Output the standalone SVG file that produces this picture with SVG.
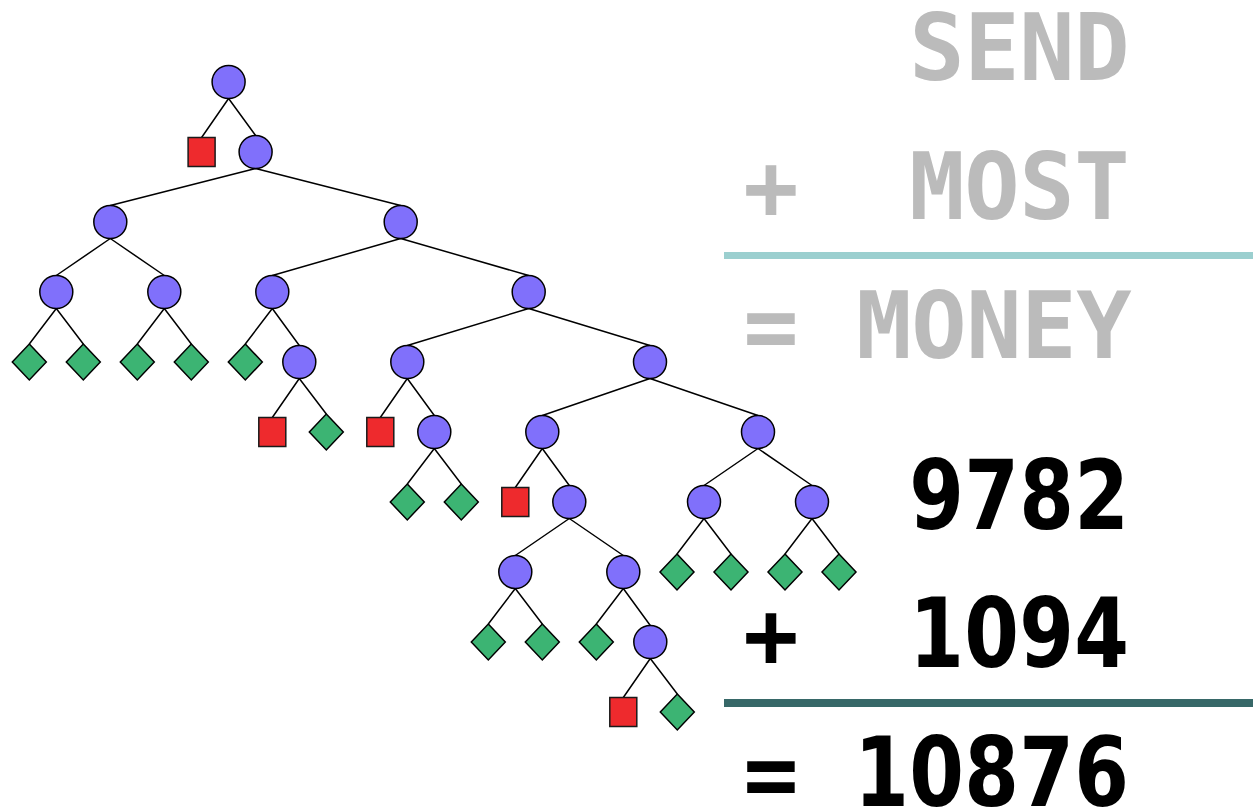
<svg xmlns="http://www.w3.org/2000/svg" width="1253" height="809" viewBox="0 0 1253 809">
  <style>
    .edge { stroke: #000; stroke-width: 1.5; fill: none; }
    .var { fill: #8070fb; stroke: #000; stroke-width: 1.5; }
    .fail { fill: #ee2a2d; stroke: #1a1a1a; stroke-width: 1.5; }
    .sol { fill: #3cb473; stroke: #000; stroke-width: 1.5; }
    .word { font-family: "DejaVu Sans Mono", "Liberation Mono", monospace; font-weight: bold; font-size: 92px; fill: #bbbbbb; text-anchor: middle; }
    .num { font-family: "DejaVu Sans", "Liberation Sans", sans-serif; font-weight: bold; font-size: 96px; fill: #000; text-anchor: middle; }
    .op { font-family: "DejaVu Sans Mono", "Liberation Mono", monospace; font-weight: bold; font-size: 92px; text-anchor: middle; }
  </style>
  <defs>
    <circle id="c" r="16.5" class="var"/>
    <rect id="s" x="-13.5" y="-14.5" width="27" height="29" class="fail"/>
    <path id="d" d="M0,-18 L17,0 L0,18 L-17,0 Z" class="sol"/>
  </defs>

  <!-- search tree edges: parent bottom to child top -->
  <g id="edges" class="edge">
    <path d="M228.6,98.5 L201.6,137.5 M228.6,98.5 L255.6,135.5"/>
    <path d="M255.6,168.5 L110.3,205.5 M255.6,168.5 L400.7,205.5"/>
    <path d="M110.3,238.5 L56.3,275.5 M110.3,238.5 L164.3,275.5"/>
    <path d="M56.3,308.5 L29.3,344 M56.3,308.5 L83.3,344"/>
    <path d="M164.3,308.5 L137.3,344 M164.3,308.5 L191.3,344"/>
    <path d="M400.7,238.5 L272.3,275.5 M400.7,238.5 L528.7,275.5"/>
    <path d="M272.3,308.5 L245.3,344 M272.3,308.5 L299.3,345.5"/>
    <path d="M299.3,378.5 L272.3,417.5 M299.3,378.5 L326.3,414"/>
    <path d="M528.7,308.5 L407.3,345.5 M528.7,308.5 L650,345.5"/>
    <path d="M407.3,378.5 L380.3,417.5 M407.3,378.5 L434.3,415.5"/>
    <path d="M434.3,448.5 L407.3,484 M434.3,448.5 L461.3,484"/>
    <path d="M650,378.5 L542.3,415.5 M650,378.5 L758,415.5"/>
    <path d="M542.3,448.5 L515.3,487.5 M542.3,448.5 L569.3,485.5"/>
    <path d="M569.3,518.5 L515.3,555.5 M569.3,518.5 L623.3,555.5"/>
    <path d="M515.3,588.5 L488.3,624 M515.3,588.5 L542.3,624"/>
    <path d="M623.3,588.5 L596.3,624 M623.3,588.5 L650.3,625.5"/>
    <path d="M650.3,658.5 L623.3,697.5 M650.3,658.5 L677.3,694"/>
    <path d="M758,448.5 L704,485.5 M758,448.5 L812,485.5"/>
    <path d="M704,518.5 L677,554 M704,518.5 L731,554"/>
    <path d="M812,518.5 L785,554 M812,518.5 L839,554"/>
  </g>

  <!-- variable nodes -->
  <g id="n-root"><use href="#c" x="228.6" y="82"/></g>
  <g id="n-b"><use href="#c" x="255.6" y="152"/></g>
  <g id="n-c"><use href="#c" x="110.3" y="222"/></g>
  <g id="n-d"><use href="#c" x="400.7" y="222"/></g>
  <g id="n-e"><use href="#c" x="56.3" y="292"/></g>
  <g id="n-f"><use href="#c" x="164.3" y="292"/></g>
  <g id="n-g"><use href="#c" x="272.3" y="292"/></g>
  <g id="n-h"><use href="#c" x="528.7" y="292"/></g>
  <g id="n-i"><use href="#c" x="299.3" y="362"/></g>
  <g id="n-j"><use href="#c" x="407.3" y="362"/></g>
  <g id="n-k"><use href="#c" x="650" y="362"/></g>
  <g id="n-l"><use href="#c" x="434.3" y="432"/></g>
  <g id="n-m"><use href="#c" x="542.3" y="432"/></g>
  <g id="n-n"><use href="#c" x="758" y="432"/></g>
  <g id="n-o"><use href="#c" x="569.3" y="502"/></g>
  <g id="n-s"><use href="#c" x="704" y="502"/></g>
  <g id="n-t"><use href="#c" x="812" y="502"/></g>
  <g id="n-p"><use href="#c" x="515.3" y="572"/></g>
  <g id="n-q"><use href="#c" x="623.3" y="572"/></g>
  <g id="n-r"><use href="#c" x="650.3" y="642"/></g>

  <!-- failed nodes -->
  <g id="f1"><use href="#s" x="201.6" y="152"/></g>
  <g id="f2"><use href="#s" x="272.3" y="432"/></g>
  <g id="f3"><use href="#s" x="380.3" y="432"/></g>
  <g id="f4"><use href="#s" x="515.3" y="502"/></g>
  <g id="f5"><use href="#s" x="623.3" y="712"/></g>

  <!-- solution leaves -->
  <g id="s1"><use href="#d" x="29.3" y="362"/></g>
  <g id="s2"><use href="#d" x="83.3" y="362"/></g>
  <g id="s3"><use href="#d" x="137.3" y="362"/></g>
  <g id="s4"><use href="#d" x="191.3" y="362"/></g>
  <g id="s5"><use href="#d" x="245.3" y="362"/></g>
  <g id="s6"><use href="#d" x="326.3" y="432"/></g>
  <g id="s7"><use href="#d" x="407.3" y="502"/></g>
  <g id="s8"><use href="#d" x="461.3" y="502"/></g>
  <g id="s9"><use href="#d" x="677" y="572"/></g>
  <g id="s10"><use href="#d" x="731" y="572"/></g>
  <g id="s11"><use href="#d" x="785" y="572"/></g>
  <g id="s12"><use href="#d" x="839" y="572"/></g>
  <g id="s13"><use href="#d" x="488.3" y="642"/></g>
  <g id="s14"><use href="#d" x="542.3" y="642"/></g>
  <g id="s15"><use href="#d" x="596.3" y="642"/></g>
  <g id="s16"><use href="#d" x="677.3" y="712"/></g>

  <!-- puzzle in letters -->
  <g id="puzzle">
    <text class="word" x="937 992 1047 1102" y="80">SEND</text>
    <text class="word" x="771" y="219">+</text>
    <text class="word" x="937 992 1047 1102" y="219">MOST</text>
    <rect x="724" y="252" width="529" height="7" fill="#9bcfcf"/>
    <text class="word" x="771" y="358">=</text>
    <text class="word" x="884 939 994 1049 1104" y="358">MONEY</text>
  </g>

  <!-- puzzle in digits, glyphs narrowed to the column pitch -->
  <g id="answer">
    <text class="num" transform="scale(0.82,1)" x="1142.3 1209.4 1276.5 1343.6" y="529">9782</text>
    <text class="op" x="771" y="667">+</text>
    <text class="num" transform="scale(0.82,1)" x="1142.3 1209.4 1276.5 1343.6" y="667">1094</text>
    <rect x="724" y="699" width="529" height="8" fill="#376868"/>
    <text class="op" x="771" y="806">=</text>
    <text class="num" transform="scale(0.82,1)" x="1075.2 1142.3 1209.4 1276.5 1343.6" y="806">10876</text>
  </g>
</svg>
